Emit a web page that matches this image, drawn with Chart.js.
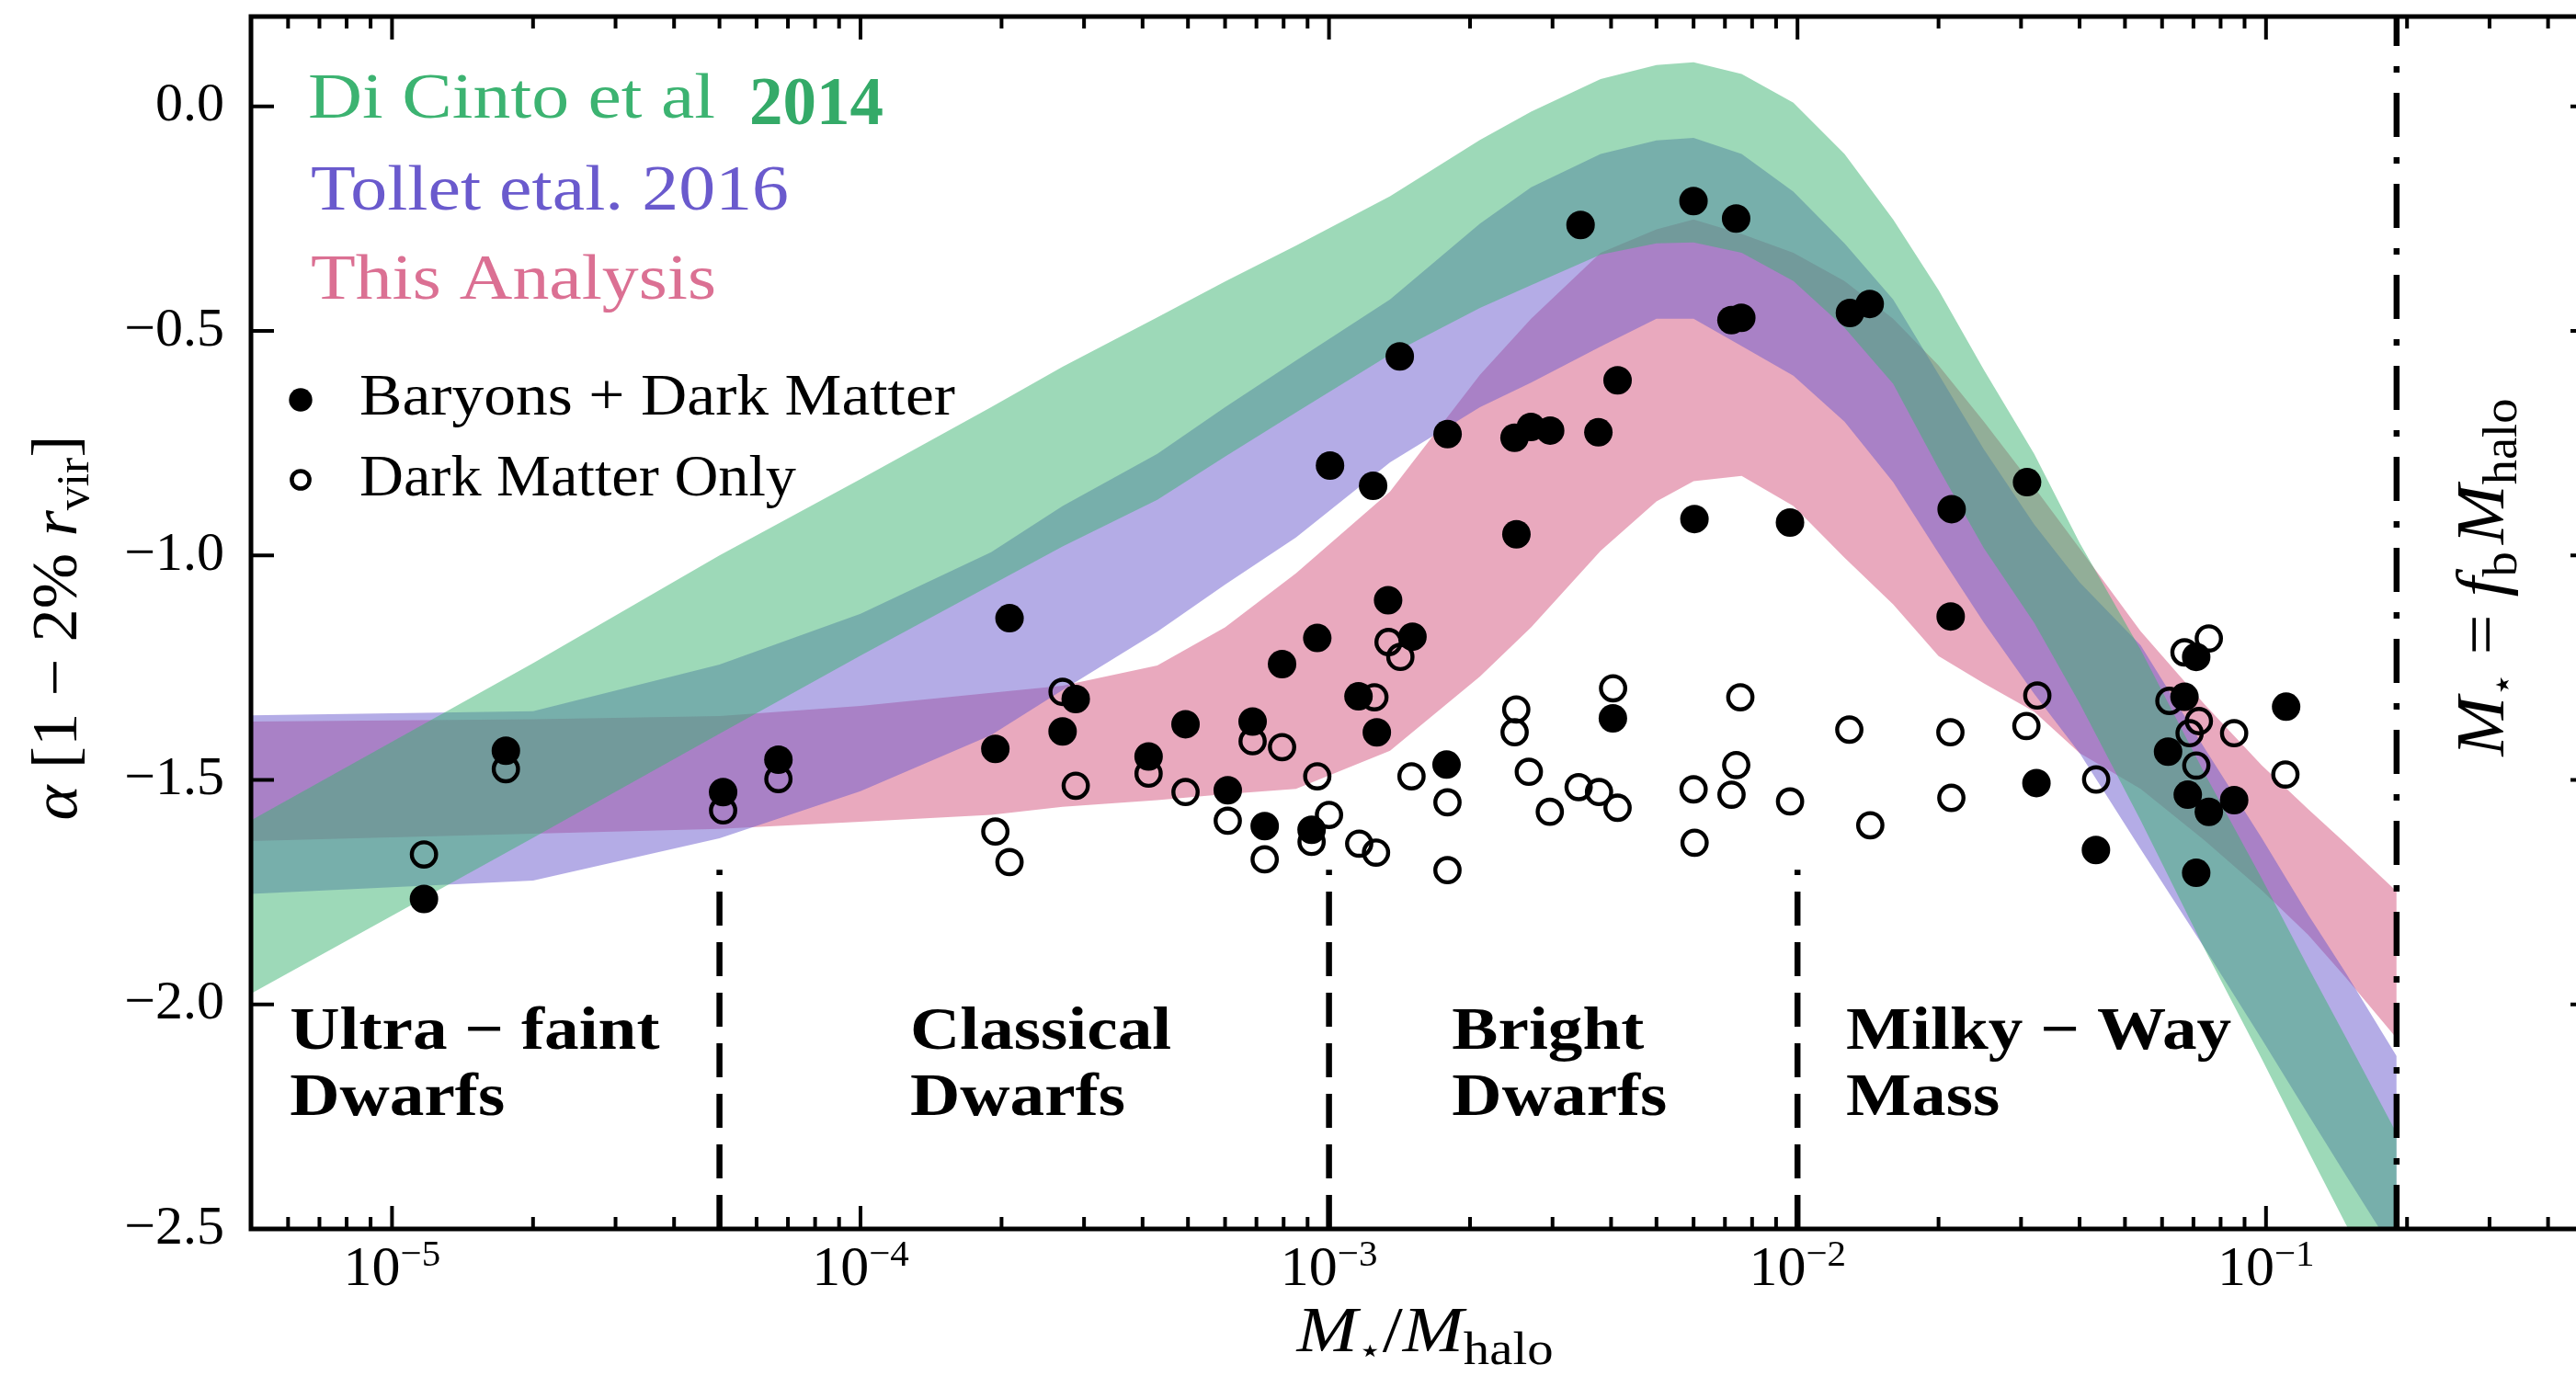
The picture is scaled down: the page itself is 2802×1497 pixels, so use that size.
<!DOCTYPE html>
<html>
<head>
<meta charset="utf-8">
<title>Inner slope alpha versus stellar-to-halo mass ratio</title>
<script src="https://cdn.jsdelivr.net/npm/chart.js@4.4.1/dist/chart.umd.min.js"></script>
<style>
  html, body { margin: 0; padding: 0; background: #ffffff; overflow: hidden; }
  canvas { display: block; }
</style>
</head>
<body>
<canvas id="chart" width="2840" height="1497" style="width:2840px;height:1497px"></canvas>
<script>
// ---------------- data ----------------
// shared M*/Mhalo grid for the three model bands (bands stop at M* = fb Mhalo)
const bandX = [3.2e-6, 5.0e-6, 2.0e-5, 5.0e-5, 1.0e-4, 1.9e-4, 2.7e-4, 4.3e-4, 6.0e-4, 8.5e-4,
               1.35e-3, 2.1e-3, 2.7e-3, 3.8e-3, 5.0e-3, 6.0e-3, 7.6e-3, 9.8e-3, 1.26e-2, 1.6e-2,
               2.0e-2, 2.5e-2, 3.2e-2, 4.0e-2, 5.4e-2, 7.4e-2, 9.8e-2, 0.123, 0.148, 0.19];

// Di Cinto et al 2014 band
const diCintoUpper = [-1.71, -1.59, -1.24, -1.00, -0.83, -0.67, -0.58, -0.47, -0.39, -0.31,
                      -0.20, -0.075, -0.012, 0.061, 0.092, 0.098, 0.072, 0.008, -0.106, -0.252,
                      -0.409, -0.587, -0.774, -0.972, -1.21, -1.486, -1.72, -1.917, -2.073, -2.287];
const diCintoLower = [-2.09, -1.976, -1.629, -1.397, -1.223, -1.066, -0.98, -0.876, -0.78, -0.682,
                      -0.553, -0.449, -0.398, -0.33, -0.305, -0.303, -0.326, -0.389, -0.493, -0.618,
                      -0.806, -0.984, -1.150, -1.329, -1.59, -1.877, -2.122, -2.326, -2.489, -2.71];

// Tollet et al. 2016 band
const tolletUpper = [-1.357, -1.356, -1.347, -1.243, -1.13, -0.993, -0.89, -0.774, -0.67, -0.566,
                     -0.430, -0.261, -0.18, -0.106, -0.076, -0.070, -0.106, -0.19, -0.305, -0.430,
                     -0.597, -0.764, -0.931, -1.06, -1.20, -1.43, -1.63, -1.80, -1.93, -2.115];
const tolletLower = [-1.756, -1.754, -1.724, -1.630, -1.525, -1.40, -1.30, -1.17, -1.065, -0.96,
                     -0.793, -0.67, -0.615, -0.535, -0.473, -0.473, -0.534, -0.60, -0.702, -0.837,
                     -0.995, -1.150, -1.308, -1.44, -1.654, -1.875, -2.078, -2.245, -2.38, -2.56];

// This analysis band
const analysisUpper = [-1.372, -1.370, -1.365, -1.358, -1.335, -1.306, -1.29, -1.245, -1.16, -1.04,
                       -0.858, -0.598, -0.473, -0.326, -0.274, -0.252, -0.284, -0.326, -0.389, -0.473,
                       -0.577, -0.702, -0.848, -0.984, -1.169, -1.332, -1.468, -1.565, -1.642, -1.748];
const analysisLower = [-1.638, -1.636, -1.62, -1.609, -1.593, -1.578, -1.56, -1.545, -1.532, -1.52,
                       -1.435, -1.27, -1.16, -0.99, -0.88, -0.835, -0.823, -0.89, -1.005, -1.109,
                       -1.224, -1.285, -1.348, -1.44, -1.52, -1.635, -1.746, -1.845, -1.94, -2.075];

// simulated galaxies: baryons + dark matter
const baryonX = [1.17e-5, 1.75e-5, 5.09e-5, 6.68e-5, 1.94e-4, 2.08e-4, 2.70e-4, 2.88e-4, 4.12e-4, 4.94e-4,
                 6.08e-4, 6.87e-4, 7.29e-4, 7.94e-4, 9.18e-4, 9.44e-4, 1.005e-3, 1.156e-3, 1.242e-3, 1.265e-3,
                 1.337e-3, 1.416e-3, 1.507e-3, 1.782e-3, 1.791e-3, 2.489e-3, 2.512e-3, 2.698e-3, 2.965e-3, 3.443e-3,
                 3.758e-3, 4.036e-3, 4.130e-3, 5.998e-3, 6.026e-3, 7.228e-3, 7.396e-3, 7.586e-3, 9.638e-3, 1.294e-2,
                 1.426e-2, 2.123e-2, 2.133e-2, 3.090e-2, 3.236e-2, 4.335e-2, 6.180e-2, 6.699e-2, 7.096e-2, 6.808e-2,
                 7.551e-2, 8.551e-2, 7.096e-2, 0.1104];
const baryonAlpha = [-1.765, -1.435, -1.527, -1.455, -1.431, -1.140, -1.392, -1.320, -1.448, -1.376,
                     -1.523, -1.370, -1.603, -1.242, -1.611, -1.184, -0.800, -1.314, -0.845, -1.394,
                     -1.100, -0.557, -1.181, -1.466, -0.730, -0.738, -0.953, -0.714, -0.722, -0.264,
                     -0.726, -1.363, -0.610, -0.211, -0.919, -0.476, -0.250, -0.471, -0.927, -0.460,
                     -0.440, -1.136, -0.897, -0.837, -1.507, -1.656, -1.437, -1.315, -1.226, -1.533,
                     -1.571, -1.545, -1.707, -1.337];

// simulated galaxies: dark matter only
const dmoX = [1.17e-5, 1.75e-5, 5.09e-5, 6.68e-5, 1.94e-4, 2.08e-4, 2.70e-4, 2.88e-4, 4.12e-4, 4.94e-4,
              6.08e-4, 6.87e-4, 7.29e-4, 7.94e-4, 9.18e-4, 9.44e-4, 1.00e-3, 1.16e-3, 1.26e-3, 1.25e-3,
              1.34e-3, 1.42e-3, 1.50e-3, 1.79e-3, 1.79e-3, 2.51e-3, 2.49e-3, 2.67e-3, 2.96e-3, 3.41e-3,
              3.77e-3, 4.13e-3, 4.04e-3, 6.00e-3, 6.03e-3, 7.40e-3, 7.23e-3, 7.55e-3, 9.64e-3, 1.29e-2,
              2.12e-2, 1.43e-2, 2.13e-2, 3.25e-2, 3.08e-2, 4.34e-2, 6.22e-2, 6.70e-2, 7.55e-2, 7.19e-2,
              6.87e-2, 7.10e-2, 8.55e-2, 0.110];
const dmoAlpha = [-1.666, -1.476, -1.568, -1.498, -1.615, -1.683, -1.304, -1.513, -1.486, -1.527,
                  -1.591, -1.414, -1.677, -1.427, -1.638, -1.492, -1.578, -1.642, -1.662, -1.316,
                  -1.193, -1.226, -1.492, -1.550, -1.701, -1.343, -1.394, -1.482, -1.571, -1.516,
                  -1.527, -1.562, -1.296, -1.521, -1.640, -1.467, -1.533, -1.316, -1.548, -1.388,
                  -1.394, -1.601, -1.540, -1.312, -1.380, -1.499, -1.324, -1.216, -1.185, -1.369,
                  -1.396, -1.468, -1.396, -1.488];

// galaxy classes
const regionEdges = [5e-5, 1e-3, 1e-2];
const regionEdgeSpan = [-2.5, -1.7];
const regionNames = [["Ultra \u2212 faint", "Dwarfs"], ["Classical", "Dwarfs"],
                     ["Bright", "Dwarfs"], ["Milky \u2212 Way", "Mass"]];
const regionLabelX = [6.05e-6, 1.276e-4, 1.83e-3, 1.27e-2];
const regionLabelY = -2.098;

// cosmic baryon fraction limit
const baryonFraction = 0.19;

// axes
const xRange = [5e-6, 0.5];
const yRange = [-2.5, 0.2];
const xDecades = [-5, -4, -3, -2, -1];
const xMinorSteps = [2, 3, 4, 5, 6, 7, 8, 9];
const yTicks = [-2.5, -2.0, -1.5, -1.0, -0.5, 0];

// ---------------- styling ----------------
const GREEN = 'rgb(60,179,113)';
const PURPLE = 'rgb(106,90,205)';
const PINK = 'rgb(219,112,147)';
const SERIF = '"Liberation Serif", "Times New Roman", serif';
const f = (style, size, fam) => `${style} ${size}px ${fam || SERIF}`;

const pts = (xs, ys) => xs.map((x, i) => ({x: x, y: ys[i]}));

function band(upper, lower, color, order) {
  return [
    {type: 'line', data: pts(bandX, upper), fill: '+1', backgroundColor: color,
     borderWidth: 0, pointRadius: 0, tension: 0, order: order},
    {type: 'line', data: pts(bandX, lower), fill: false, borderWidth: 0,
     pointRadius: 0, tension: 0, order: order}
  ];
}

const datasets = [
  ...band(diCintoUpper, diCintoLower, 'rgba(60,179,113,0.5)', 3),
  ...band(tolletUpper, tolletLower, 'rgba(106,90,205,0.5)', 4),
  ...band(analysisUpper, analysisLower, 'rgba(219,112,147,0.6)', 5),
  ...regionEdges.map(x => ({
    type: 'line', data: regionEdgeSpan.map(y => ({x: x, y: y})), borderColor: '#000',
    borderWidth: 6.5, borderDash: [37, 18], pointRadius: 0, fill: false, order: 2
  })),
  {type: 'line', data: [{x: baryonFraction, y: yRange[0]}, {x: baryonFraction, y: yRange[1]}],
   borderColor: '#000', borderWidth: 6.5, borderDash: [48, 22, 7, 22], pointRadius: 0, fill: false, order: 2},
  {label: 'Dark Matter Only', data: pts(dmoX, dmoAlpha), pointRadius: 13.2, borderWidth: 4.4,
   borderColor: '#000', backgroundColor: 'rgba(0,0,0,0)', order: 1},
  {label: 'Baryons + Dark Matter', data: pts(baryonX, baryonAlpha), pointRadius: 15.5, borderWidth: 0,
   backgroundColor: '#000', borderColor: '#000', order: 0}
];

// ---------------- text helpers ----------------
function runsWidth(ctx, runs) {
  let w = 0;
  for (const r of runs) { ctx.font = r.font; w += ctx.measureText(r.text).width + (r.kern || 0); }
  return w;
}
function drawRuns(ctx, runs, x, y, o) {
  o = o || {};
  const natural = runsWidth(ctx, runs);
  const sx = o.width ? o.width / natural : (o.stretch || 1);
  ctx.save();
  ctx.translate(x, y);
  if (o.angle) ctx.rotate(o.angle);
  ctx.scale(sx, 1);
  ctx.textBaseline = 'alphabetic';
  ctx.textAlign = 'left';
  let cx = o.align === 'center' ? -natural / 2 : 0;
  for (const r of runs) {
    ctx.font = r.font;
    ctx.fillStyle = r.color || o.color || '#000';
    ctx.fillText(r.text, cx, r.dy || 0);
    cx += ctx.measureText(r.text).width + (r.kern || 0);
  }
  ctx.restore();
}

// ---------------- frame, ticks and annotations ----------------
const frame = {
  id: 'frame',
  afterDraw(chart) {
    const ctx = chart.ctx;
    const xs = chart.scales.x, ys = chart.scales.y;
    const {left, right, top, bottom} = chart.chartArea;

    ctx.save();
    ctx.strokeStyle = '#000';
    ctx.lineCap = 'butt';

    // inward ticks on all four sides
    ctx.lineWidth = 4;
    ctx.beginPath();
    for (let n = -6; n <= 0; n++) {
      for (const k of [1].concat(xMinorSteps)) {
        const v = k * Math.pow(10, n);
        if (v < xRange[0] * 0.999 || v > xRange[1] * 1.001) continue;
        const px = xs.getPixelForValue(v);
        const len = k === 1 ? 25 : 13;
        ctx.moveTo(px, bottom); ctx.lineTo(px, bottom - len);
        ctx.moveTo(px, top); ctx.lineTo(px, top + len);
      }
    }
    for (const v of yTicks) {
      const py = ys.getPixelForValue(v);
      ctx.moveTo(left, py); ctx.lineTo(left + 25, py);
      ctx.moveTo(right, py); ctx.lineTo(right - 25, py);
    }
    ctx.stroke();

    // spines
    ctx.lineWidth = 5;
    ctx.strokeRect(left, top, right - left, bottom - top);

    // x tick labels 10^n
    for (const d of xDecades) {
      const px = xs.getPixelForValue(Math.pow(10, d));
      drawRuns(ctx, [
        {text: '10', font: f('normal', 62)},
        {text: '\u2212' + (-d), font: f('normal', 41), dy: -21}
      ], px, 1398, {align: 'center'});
    }

    // axis titles
    drawRuns(ctx, [
      {text: 'M', font: f('italic', 70)},
      {text: '\u22C6', font: f('normal', 38, '"DejaVu Sans"'), dy: 12},
      {text: '/', font: f('normal', 70)},
      {text: 'M', font: f('italic', 70)},
      {text: 'halo', font: f('normal', 50), dy: 14}
    ], 1550, 1470, {align: 'center', width: 279});

    drawRuns(ctx, [
      {text: '\u03B1', font: f('italic', 70)},
      {text: ' [1 \u2212 2% ', font: f('normal', 70)},
      {text: 'r', font: f('italic', 70)},
      {text: 'vir', font: f('normal', 50), dy: 13},
      {text: ']', font: f('normal', 70)}
    ], 83, 683, {align: 'center', angle: -Math.PI / 2, width: 419});

    // baryon fraction label
    drawRuns(ctx, [
      {text: 'M', font: f('italic', 74)},
      {text: '\u22C6', font: f('normal', 40, '"DejaVu Sans"'), dy: 12},
      {text: ' = ', font: f('normal', 74)},
      {text: 'f', font: f('italic', 74)},
      {text: 'b', font: f('normal', 52), dy: 14, kern: 8},
      {text: 'M', font: f('italic', 74)},
      {text: 'halo', font: f('normal', 52), dy: 14}
    ], 2723, 628, {align: 'center', angle: -Math.PI / 2, width: 389});

    // galaxy class labels
    const py0 = ys.getPixelForValue(regionLabelY);
    regionNames.forEach((lines, i) => {
      const px = xs.getPixelForValue(regionLabelX[i]);
      lines.forEach((line, j) => {
        drawRuns(ctx, [{text: line, font: f('bold', 66)}], px, py0 + 72 * j, {stretch: 1.14});
      });
    });

    // model legend
    drawRuns(ctx, [{text: 'Di Cinto et al', font: f('normal', 69), color: GREEN}], 335, 128, {width: 443});
    drawRuns(ctx, [{text: '2014', font: f('bold', 74), color: 'rgb(52,170,104)'}], 815, 135, {width: 146});
    drawRuns(ctx, [{text: 'Tollet etal. 2016', font: f('normal', 69), color: PURPLE}], 338, 228, {width: 520});
    drawRuns(ctx, [{text: 'This Analysis', font: f('normal', 69), color: PINK}], 338, 325, {width: 441});

    // simulation legend
    ctx.fillStyle = '#000';
    ctx.beginPath(); ctx.arc(327, 435, 12.7, 0, Math.PI * 2); ctx.fill();
    ctx.lineWidth = 4.5;
    ctx.beginPath(); ctx.arc(327, 522, 9.6, 0, Math.PI * 2); ctx.stroke();
    drawRuns(ctx, [{text: 'Baryons + Dark Matter', font: f('normal', 64)}], 391, 451, {width: 648});
    drawRuns(ctx, [{text: 'Dark Matter Only', font: f('normal', 64)}], 391, 539, {width: 475});

    ctx.restore();
  }
};

// keep the plot frame exactly where the layout padding puts it
function noLabelOverflow(scale) {
  scale.paddingTop = 0; scale.paddingBottom = 0;
  scale.paddingLeft = 0; scale.paddingRight = 0;
}

// ---------------- chart ----------------
new Chart(document.getElementById('chart'), {
  type: 'scatter',
  data: {datasets: datasets},
  options: {
    responsive: false,
    animation: false,
    events: [],
    layout: {padding: {top: 18, right: 19, bottom: 0, left: 0}},
    plugins: {legend: {display: false}, tooltip: {enabled: false}},
    scales: {
      x: {
        type: 'logarithmic', min: xRange[0], max: xRange[1],
        grid: {display: false}, border: {display: false},
        ticks: {display: false},
        afterFit(scale) { scale.height = 160; noLabelOverflow(scale); }
      },
      y: {
        type: 'linear', min: yRange[0], max: yRange[1],
        grid: {display: false}, border: {display: false},
        afterBuildTicks(scale) { scale.ticks = yTicks.map(v => ({value: v})); },
        ticks: {
          padding: 21, color: '#000',
          font: {family: '"Liberation Serif"', size: 60},
          callback: v => Number(v).toFixed(1).replace('-', '\u2212')
        },
        afterFit(scale) { scale.width = 273; noLabelOverflow(scale); }
      }
    }
  },
  plugins: [frame]
});
</script>
</body>
</html>
